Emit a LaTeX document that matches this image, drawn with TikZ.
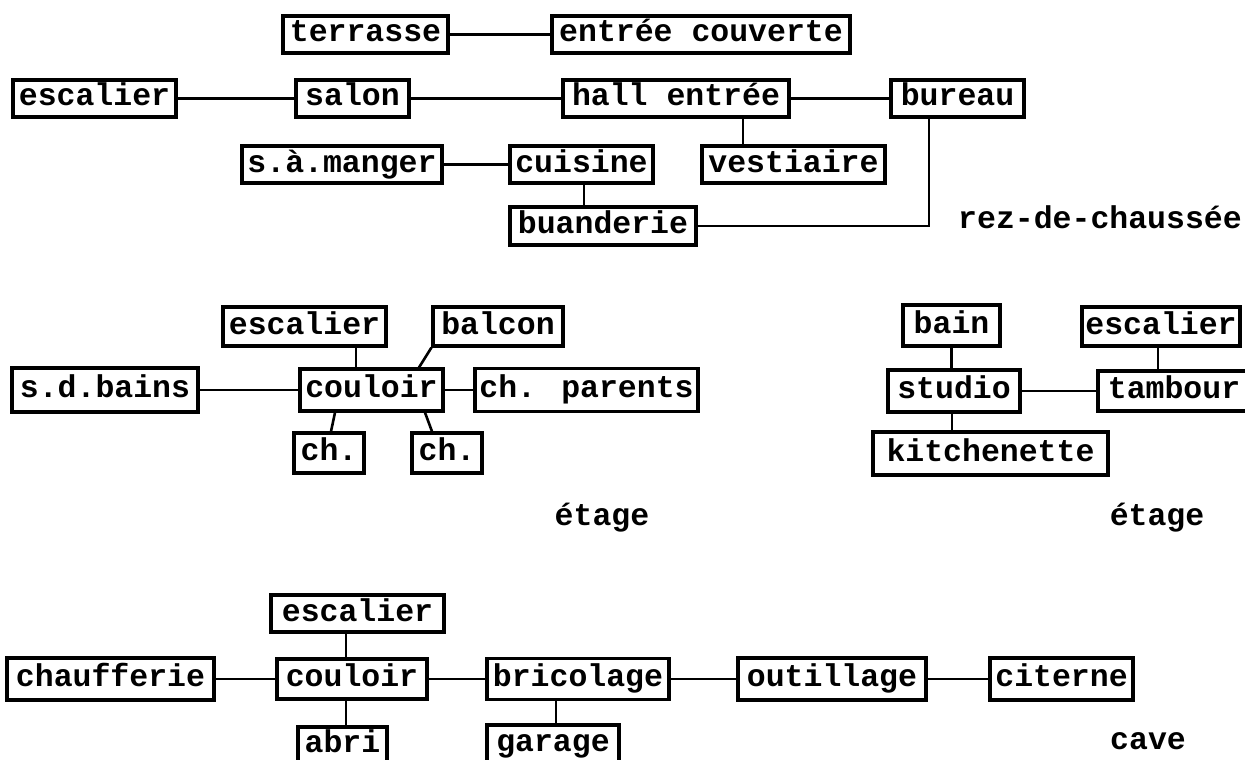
\documentclass[tikz,border=0pt]{standalone}
\usepackage{fontspec}
\setmainfont{Liberation Mono}
\newcommand\roomfont{\fontsize{31.5pt}{32pt}\selectfont\bfseries}
\begin{document}
\begin{tikzpicture}[x=1pt,y=-1pt,
  room/.style={draw, line width=3.1pt, inner sep=0pt, text height=21pt, text depth=6pt, font=\roomfont},
  link/.style={line width=2.6pt},
  floorlabel/.style={inner sep=0pt, text height=21pt, text depth=6pt, font=\roomfont}]
\useasboundingbox (0,0) rectangle (1245,760);
\clip (0,0) rectangle (1245,760);

% ---------- rez-de-chaussée ----------
\node[room,minimum width=165pt,minimum height=37pt] (terrasse) at (365.5,34.5) {terrasse};
\node[room,minimum width=298pt,minimum height=37pt] (entree) at (701,34.5) {entrée couverte};
\node[room,minimum width=163pt,minimum height=37pt] (escR) at (94.5,98.5) {escalier};
\node[room,minimum width=113pt,minimum height=37pt] (salon) at (352.5,98.5) {salon};
\node[room,minimum width=226pt,minimum height=37pt] (hall) at (676,98.5) {hall entrée};
\node[room,minimum width=133pt,minimum height=37pt] (bureau) at (957.5,98.5) {bureau};
\node[room,minimum width=200pt,minimum height=37pt] (manger) at (342,164.5) {s.à.manger};
\node[room,minimum width=143pt,minimum height=37pt] (cuisine) at (581.5,164.5) {cuisine};
\node[room,minimum width=183pt,minimum height=37pt] (vestiaire) at (793.5,164.5) {vestiaire};
\node[room,minimum width=186pt,minimum height=38pt] (buanderie) at (603,226) {buanderie};
\node[floorlabel,anchor=west] (rdc) at (958,220.5) {rez-de-chaussée};

\draw[link] (terrasse) -- (entree);
\draw[link] (escR) -- (salon);
\draw[link] (salon) -- (hall);
\draw[link] (hall) -- (bureau);
\coordinate (hv) at ([xshift=67pt]hall.south);
\draw[link] (hv) -- (hv |- vestiaire.north);
\draw[link] (manger) -- (cuisine);
\coordinate (cb) at ([xshift=2.5pt]cuisine.south);
\draw[link] (cb) -- (cb |- buanderie.north);
\coordinate (bb) at ([xshift=-28.5pt]bureau.south);
\draw[link] (buanderie.east) -| (bb);

% ---------- étage (appartement) ----------
\node[room,minimum width=163pt,minimum height=39pt] (escE) at (304.5,326.5) {escalier};
\node[room,minimum width=130pt,minimum height=39pt] (balcon) at (498,326.5) {balcon};
\node[room,minimum width=186pt,minimum height=44pt] (sdb) at (105,390) {s.d.bains};
\node[room,minimum width=143pt,minimum height=42pt] (couloirE) at (371.5,390) {couloir};
\node[room,minimum width=223pt,minimum height=43pt] (chp) at (586.5,390) {ch. parents};
\node[room,minimum width=70pt,minimum height=40pt] (chA) at (329,453) {ch.};
\node[room,minimum width=70pt,minimum height=40pt] (chB) at (447,453) {ch.};
\node[floorlabel] (etage1) at (602,518) {étage};

\coordinate (ec) at ([xshift=-15.5pt]couloirE.north);
\draw[link] (ec) -- (ec |- escE.south);
\draw[link] (balcon.south west) -- ([xshift=47.5pt]couloirE.north);
\draw[link] (sdb) -- (couloirE);
\draw[link] (couloirE) -- (chp);
\draw[link] ([xshift=-36.5pt]couloirE.south) -- ([xshift=2pt]chA.north);
\draw[link] ([xshift=53.5pt]couloirE.south) -- ([xshift=-15pt]chB.north);

% ---------- étage (studio) ----------
\node[room,minimum width=97pt,minimum height=41pt] (bain) at (951.5,325.5) {bain};
\node[room,minimum width=158pt,minimum height=39pt] (escE2) at (1161,326.5) {escalier};
\node[room,minimum width=132pt,minimum height=42pt] (studio) at (954,391) {studio};
\node[room,minimum width=152pt,minimum height=40pt] (tambour) at (1174,391) {tambour};
\node[room,minimum width=235pt,minimum height=43pt] (kitchen) at (990.5,453.5) {kitchenette};
\node[floorlabel] (etage2) at (1157,518) {étage};

\coordinate (bs) at (bain.south);
\draw[link] (bs) -- (bs |- studio.north);
\coordinate (et) at ([xshift=-3pt]escE2.south);
\draw[link] (et) -- (et |- tambour.north);
\draw[link] (studio) -- (tambour);
\coordinate (sk) at ([xshift=-2pt]studio.south);
\draw[link] (sk) -- (sk |- kitchen.north);

% ---------- cave ----------
\node[room,minimum width=173pt,minimum height=37pt] (escC) at (357.5,613.5) {escalier};
\node[room,minimum width=207pt,minimum height=42pt] (chauff) at (110.5,679) {chaufferie};
\node[room,minimum width=150pt,minimum height=40pt] (couloirC) at (352,679) {couloir};
\node[room,minimum width=182pt,minimum height=41pt] (brico) at (578,679) {bricolage};
\node[room,minimum width=188pt,minimum height=42pt] (outil) at (832,679) {outillage};
\node[room,minimum width=143pt,minimum height=42pt] (citerne) at (1061.5,679) {citerne};
\node[room,minimum width=89pt,minimum height=36pt] (abri) at (342.5,745) {abri};
\node[room,minimum width=132pt,minimum height=38pt] (garage) at (553,744) {garage};
\node[floorlabel] (cave) at (1148,741.5) {cave};

\draw[link] (chauff) -- (couloirC);
\draw[link] (couloirC) -- (brico);
\draw[link] (brico) -- (outil);
\draw[link] (outil) -- (citerne);
\coordinate (ce) at ([xshift=-6pt]couloirC.north);
\draw[link] (ce) -- (ce |- escC.south);
\coordinate (ca) at ([xshift=-6pt]couloirC.south);
\draw[link] (ca) -- (ca |- abri.north);
\coordinate (bg) at ([xshift=-22pt]brico.south);
\draw[link] (bg) -- (bg |- garage.north);
\end{tikzpicture}
\end{document}
